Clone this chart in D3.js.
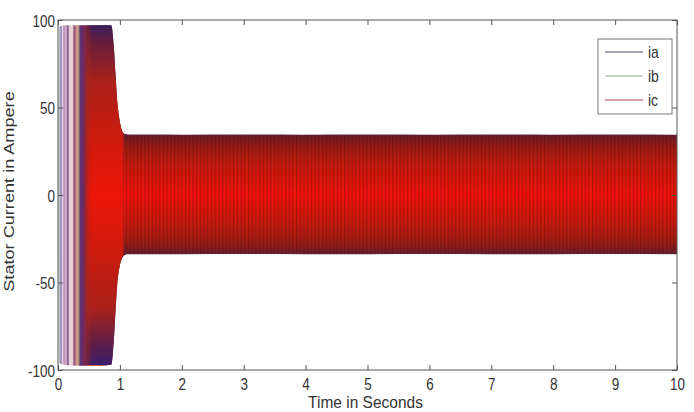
<!DOCTYPE html>
<html><head><meta charset="utf-8">
<script src="https://cdn.jsdelivr.net/npm/d3@7"></script>
<style>
body{margin:0;background:#fff}
svg{display:block}
text{font-family:"Liberation Sans",Arial,Helvetica,sans-serif;fill:#333}
</style>
</head><body>
<svg id="c" width="694" height="412"></svg>
<script>
// ---------------- data (envelopes) ----------------
const phases = ["ia", "ib", "ic"];
const timeS  = [0, 0.02, 0.1, 0.3, 0.5, 0.7, 0.86, 0.90, 0.93, 0.96, 0.99, 1.02, 1.06, 1.12, 1.5, 2, 3, 4, 5, 6, 7, 8, 9, 10];
const iaUpper = [0, 96, 97, 97, 97, 97, 97, 86, 69, 53, 44, 38.5, 35.3, 34.6, 34.6, 34.5, 34.6, 34.5, 34.6, 34.5, 34.6, 34.5, 34.6, 34.5];
const iaLower = [0, -96, -97, -97.5, -97.5, -97.5, -97, -84, -66, -50, -42, -37.5, -34.8, -33.8, -33.8, -33.8, -33.7, -33.8, -33.8, -33.7, -33.8, -33.8, -33.7, -33.8];
const ibUpper = [0, 95, 96.5, 97, 97, 97, 96.5, 85, 68, 52, 43.5, 38, 35, 34.2, 34.2, 34.2, 34.1, 34.2, 34.2, 34.1, 34.2, 34.2, 34.1, 34.2];
const ibLower = [0, -95, -96.5, -97, -97, -97, -96.5, -83, -65, -49.5, -41.5, -37, -34.5, -33.4, -33.4, -33.4, -33.3, -33.4, -33.4, -33.3, -33.4, -33.4, -33.3, -33.4];
const icUpper = [0, 95.5, 96.8, 97, 97, 97, 96.8, 85.5, 68.5, 52.5, 43.8, 38.2, 35.1, 34.3, 34.3, 34.3, 34.3, 34.3, 34.3, 34.3, 34.3, 34.3, 34.3, 34.3];
const icLower = [0, -95.5, -96.8, -97.2, -97.2, -97.2, -96.8, -83.5, -65.5, -49.8, -41.8, -37.2, -34.6, -33.5, -33.5, -33.5, -33.5, -33.5, -33.5, -33.5, -33.5, -33.5, -33.5, -33.5];
const xTicks = [0, 1, 2, 3, 4, 5, 6, 7, 8, 9, 10];
const yTicks = [-100, -50, 0, 50, 100];
const legendColors = ["#4a4a6e", "#86aa86", "#a85050"];

// startup colour texture (time, colour) for the mixed transient region
const iaStripeT = [0, 0.016, 0.035, 0.05, 0.07, 0.097, 0.13, 0.16, 0.19, 0.24, 0.26, 0.29, 0.32, 0.355, 0.40, 0.45, 0.52, 0.61, 0.8, 1.2];
const iaStripeC = ["#f4f2f6", "#dcd6e8", "#9c8cbc", "#7c70ac", "#e6dcec", "#b488b8", "#dcbccc", "#7c4c8c", "#eedede", "#e6cccc", "#8a3c7a", "#c88c90", "#d8a48a", "#5a3078", "#6a2a6a", "#8a2a3a", "#a8281c", "#c81e10", "#6a1c30", "#5a2040"];
const ibStripeT = [0, 0.02, 0.04, 0.06, 0.3, 0.33, 0.37, 1.2];
const ibStripeC = ["#9ab89a", "#a8c8a8", "#c8d8c8", "#c8d8c8", "#b0a070", "#b0a070", "#8a8050", "#8a8050"];
const ibStripeO = [0, 0.55, 0.3, 0, 0, 0.45, 0, 0];

// ---------------- layout ----------------
const svg = d3.select("#c");
const L = 58, R = 677, T = 20, B = 370;
const x = d3.scaleLinear().domain([0, 10]).range([L, R]);
const y = d3.scaleLinear().domain([-100, 100]).range([B, T]);

const defs = svg.append("defs");
defs.append("clipPath").attr("id", "plotClip")
  .append("rect").attr("x", L).attr("y", T).attr("width", R - L).attr("height", B - T);

const gA = defs.append("linearGradient").attr("id", "gA")
  .attr("gradientUnits", "userSpaceOnUse")
  .attr("x1", x(0)).attr("x2", x(1.2)).attr("y1", 0).attr("y2", 0);
iaStripeT.forEach((t, i) => gA.append("stop").attr("offset", t / 1.2).attr("stop-color", iaStripeC[i]));

const gB = defs.append("linearGradient").attr("id", "gB")
  .attr("gradientUnits", "userSpaceOnUse")
  .attr("x1", x(0)).attr("x2", x(1.2)).attr("y1", 0).attr("y2", 0);
ibStripeT.forEach((t, i) => gB.append("stop").attr("offset", t / 1.2)
  .attr("stop-color", ibStripeC[i]).attr("stop-opacity", ibStripeO[i]));

const gCs = defs.append("linearGradient").attr("id", "gCs")
  .attr("gradientUnits", "userSpaceOnUse")
  .attr("x1", 0).attr("x2", 0).attr("y1", y(100)).attr("y2", y(-100));
[[100, "#3a1e5e"], [97, "#3a1e5e"], [86, "#6a1e3a"], [65, "#a8201a"], [30, "#d01a0c"], [0, "#ee160a"],
 [-30, "#d01a0c"], [-65, "#a8201a"], [-86, "#5a1e4a"], [-97, "#3a1e6e"], [-100, "#3a1e6e"]]
  .forEach(s => gCs.append("stop").attr("offset", (y(s[0]) - y(100)) / (y(-100) - y(100))).attr("stop-color", s[1]));

const gM = defs.append("linearGradient").attr("id", "gM")
  .attr("gradientUnits", "userSpaceOnUse")
  .attr("x1", x(0)).attr("x2", x(1.2)).attr("y1", 0).attr("y2", 0);
[[0, "#000"], [0.42, "#000"], [0.47, "#777"], [0.56, "#fff"], [1.2, "#fff"]]
  .forEach(s => gM.append("stop").attr("offset", s[0] / 1.2).attr("stop-color", s[1]));
defs.append("mask").attr("id", "mC").attr("maskUnits", "userSpaceOnUse")
  .attr("x", 0).attr("y", 0).attr("width", 694).attr("height", 412)
  .append("rect").attr("x", 0).attr("y", 0).attr("width", 694).attr("height", 412).attr("fill", "url(#gM)");

const gC = defs.append("linearGradient").attr("id", "gC")
  .attr("x1", 0).attr("x2", 0).attr("y1", 0).attr("y2", 1);
[[0, "#5a2438"], [0.04, "#7a1c22"], [0.12, "#a01c10"], [0.26, "#c81a0c"], [0.5, "#f2120a"],
 [0.74, "#c81a0c"], [0.88, "#a01c10"], [0.96, "#7a1c22"], [1, "#5a2438"]]
  .forEach(s => gC.append("stop").attr("offset", s[0]).attr("stop-color", s[1]));

const pat = defs.append("pattern").attr("id", "stripes").attr("patternUnits", "userSpaceOnUse")
  .attr("width", 3.7).attr("height", 10);
pat.append("rect").attr("x", 0).attr("y", 0).attr("width", 1.3).attr("height", 10)
  .attr("fill", "#3a0818").attr("opacity", 0.28);

// ---------------- series ----------------
const rows = (up, lo) => timeS.map((t, i) => ({ t, hi: up[i], lo: lo[i] }));
const area = d3.area().x(d => x(d.t)).y0(d => y(d.lo)).y1(d => y(d.hi)).curve(d3.curveMonotoneX);

const plot = svg.append("g").attr("clip-path", "url(#plotClip)");
const iaRows = rows(iaUpper, iaLower), ibRows = rows(ibUpper, ibLower), icRows = rows(icUpper, icLower);

plot.append("path").attr("class", "ia").attr("d", area(iaRows)).attr("fill", "url(#gA)");
plot.append("path").attr("class", "ib").attr("d", area(ibRows)).attr("fill", "url(#gB)");
const split = 1.06;
plot.append("path").attr("class", "ic").attr("d", area(icRows.filter(d => d.t <= split)))
  .attr("fill", "url(#gCs)").attr("mask", "url(#mC)");
const steady = icRows.filter(d => d.t >= split);
plot.append("path").attr("class", "ic").attr("d", area(steady)).attr("fill", "url(#gC)");
plot.append("path").attr("d", area(steady)).attr("fill", "url(#stripes)");

// ---------------- axes ----------------
const axCol = "#555";
const fmt = d => String(d);
const gx = svg.append("g").attr("transform", `translate(0,${B})`)
  .call(d3.axisBottom(x).tickValues(xTicks).tickFormat(fmt).tickSizeInner(-5).tickSizeOuter(0));
gx.selectAll("text").attr("y", 0).attr("dy", 0)
  .attr("transform", "translate(0,19.5) scale(1,1.22)").style("font-size", "13.5px");
const gxt = svg.append("g").attr("transform", `translate(0,${T})`)
  .call(d3.axisTop(x).tickValues(xTicks).tickFormat("").tickSizeInner(-5).tickSizeOuter(0));
const gy = svg.append("g").attr("transform", `translate(${L},0)`)
  .call(d3.axisLeft(y).tickValues(yTicks).tickFormat(fmt).tickSizeInner(-5).tickSizeOuter(0));
gy.selectAll("text").attr("x", 0).attr("dy", 0)
  .attr("transform", "translate(-3,6) scale(1,1.25)").style("font-size", "13.5px");
const gyr = svg.append("g").attr("transform", `translate(${R},0)`)
  .call(d3.axisRight(y).tickValues(yTicks).tickFormat("").tickSizeInner(-5).tickSizeOuter(0));
[gx, gxt, gy, gyr].forEach(g => {
  g.select(".domain").remove();
  g.selectAll("line").attr("stroke", axCol);
  g.attr("font-family", null).attr("font-size", null);
  g.selectAll("text").attr("fill", "#333");
});
svg.append("rect").attr("x", L).attr("y", T).attr("width", R - L).attr("height", B - T)
  .attr("fill", "none").attr("stroke", axCol).attr("stroke-width", 1);

// titles
svg.append("text").attr("text-anchor", "middle").style("font-size", "15.5px")
  .attr("transform", "translate(365.5,408.3) scale(1,1.08)").text("Time in Seconds");
svg.append("text").attr("text-anchor", "middle").style("font-size", "15.5px")
  .attr("transform", "translate(14,191.5) scale(1,1.17) rotate(-90)").text("Stator Current in Ampere");

// ---------------- legend ----------------
const lg = svg.append("g");
lg.append("rect").attr("x", 598).attr("y", 39).attr("width", 74).attr("height", 75)
  .attr("fill", "#fff").attr("stroke", "#777").attr("stroke-width", 1);
phases.forEach((p, i) => {
  const ly = 52 + i * 24;
  lg.append("line").attr("x1", 605).attr("x2", 643).attr("y1", ly).attr("y2", ly)
    .attr("stroke", legendColors[i]).attr("stroke-width", 1);
  lg.append("text").attr("transform", `translate(648,${ly + 5.5}) scale(1,1.2)`)
    .style("font-size", "14px").text(p);
});
</script>
</body></html>
